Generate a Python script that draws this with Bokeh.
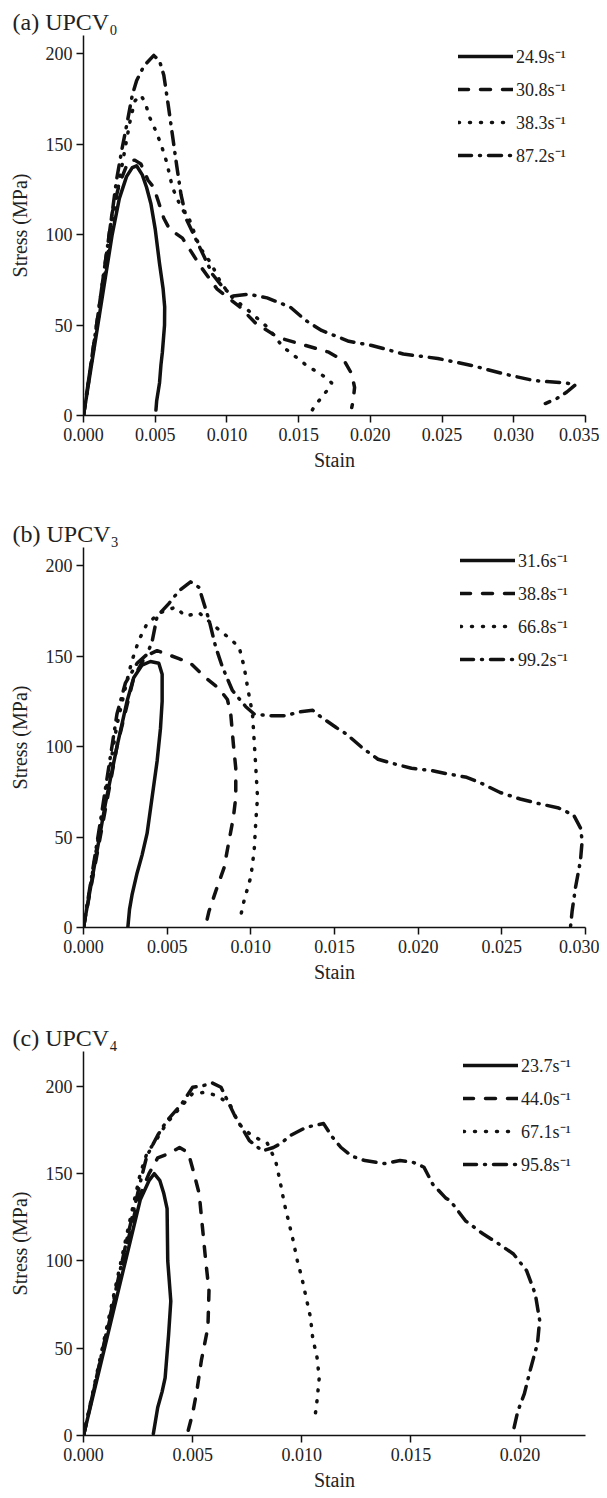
from bokeh.plotting import figure
from bokeh.layouts import column
from bokeh.models import Legend, LegendItem, Title, FixedTicker, PrintfTickFormatter, Range1d
from bokeh.embed import file_html
from bokeh.resources import INLINE

FONT = "Liberation Serif"
INK = "#111111"

# ---------------- Panel (a) UPCV0 ----------------
a_title = "(a) UPCV₀"
a_labels = ["24.9s⁻¹", "30.8s⁻¹", "38.3s⁻¹", "87.2s⁻¹"]
a1_x = [0, 0.0005, 0.001, 0.0015, 0.002, 0.0025, 0.003, 0.0034, 0.0037, 0.0041, 0.0044, 0.0047, 0.0050,
        0.0053, 0.00555, 0.00566, 0.00565, 0.0055, 0.0054, 0.0053, 0.0051, 0.00505]
a1_y = [0, 25, 50, 75, 100, 120, 132, 137, 138, 133, 126, 117, 103, 84, 70, 60, 50, 35, 28, 18, 8, 3]
a2_x = [0, 0.001, 0.002, 0.0025, 0.003, 0.0033, 0.0036, 0.0040, 0.0045, 0.0049, 0.0056, 0.0060, 0.0069,
        0.0082, 0.0093, 0.0109, 0.0120, 0.0136, 0.0155, 0.0171, 0.0182, 0.0187, 0.0189, 0.0188, 0.0187]
a2_y = [0, 55, 112, 128, 138, 141, 141, 139, 130, 126, 109, 103, 98, 82, 70, 60, 51, 43, 38.7, 35, 30,
        23, 15.5, 8, 4.4]
a3_x = [0, 0.001, 0.002, 0.0025, 0.003, 0.0033, 0.0036, 0.0040, 0.0043, 0.0046, 0.0050, 0.0054, 0.0058,
        0.0062, 0.0068, 0.0074, 0.0081, 0.0089, 0.0096, 0.0104, 0.0115, 0.0128, 0.0139, 0.0155, 0.0169,
        0.0173, 0.0170, 0.0165, 0.0161, 0.0158]
a3_y = [0, 52, 105, 130, 152, 165, 174, 177, 173, 165, 158, 150, 140, 126, 115, 108, 93, 84, 73, 65, 58,
        49, 38, 28, 21, 18, 14, 9, 5, 1]
a4_x = [0, 0.001, 0.002, 0.0023, 0.0027, 0.0030, 0.0034, 0.0037, 0.0042, 0.0049, 0.0053, 0.0056, 0.0059,
        0.0062, 0.0065, 0.0068, 0.0072, 0.0078, 0.0084, 0.0090, 0.0097, 0.0104, 0.0115, 0.0128, 0.0144,
        0.0155, 0.0166, 0.0185, 0.0201, 0.0223, 0.0247, 0.0271, 0.0293, 0.0314, 0.0336, 0.0343, 0.0337,
        0.0330, 0.0322]
a4_y = [0, 55, 112, 130, 148, 160, 177, 185, 193, 199, 196, 188, 172, 155, 138, 122, 108, 98, 88, 78, 71,
        66, 67, 65, 60, 52.5, 47, 41, 38.7, 34, 31.5, 27.6, 23, 19.3, 18, 17, 13, 9.4, 6.6]
a_xticks = [0.000, 0.005, 0.010, 0.015, 0.020, 0.025, 0.030, 0.035]

# ---------------- Panel (b) UPCV3 ----------------
b_title = "(b) UPCV₃"
b_labels = ["31.6s⁻¹", "38.8s⁻¹", "66.8s⁻¹", "99.2s⁻¹"]
b1_x = [0, 0.0013, 0.0020, 0.0026, 0.0030, 0.0035, 0.0040, 0.0045, 0.0047, 0.0047, 0.0046, 0.0044,
        0.0041, 0.0038, 0.0035, 0.0032, 0.0029, 0.00275, 0.00265]
b1_y = [0, 68, 100, 125, 138, 145, 147, 146, 140, 125, 110, 92, 72, 52, 40, 30, 18, 10, 0]
b2_x = [0, 0.001, 0.002, 0.003, 0.0037, 0.0044, 0.0050, 0.0057, 0.0064, 0.0073, 0.0081, 0.0086, 0.0088,
        0.00896, 0.0091, 0.0091, 0.00896, 0.0087, 0.0084, 0.0079, 0.0075, 0.00735]
b2_y = [0, 50, 100, 138, 150, 153, 151, 148.6, 146, 138, 132, 126, 118, 101, 88, 72, 61, 48, 33, 20, 9, 3]
b3_x = [0, 0.001, 0.002, 0.0026, 0.0029, 0.0033, 0.0038, 0.0046, 0.0055, 0.0061, 0.0069, 0.0079, 0.0087,
        0.0093, 0.0096, 0.0098, 0.0101, 0.0102, 0.0103, 0.0104, 0.0103, 0.0102, 0.0100, 0.0096, 0.0094]
b3_y = [0, 56, 112, 136.5, 147.5, 158.6, 168, 174, 177, 172, 174, 166, 160, 155, 144, 133, 118, 103, 88,
        72, 59, 42.5, 28, 15, 6.6]
b4_x = [0, 0.001, 0.002, 0.0025, 0.0032, 0.0038, 0.0041, 0.0044, 0.0051, 0.0057, 0.0064, 0.0069, 0.0071,
        0.0075, 0.0079, 0.0083, 0.0089, 0.0097, 0.0102, 0.0111, 0.0121, 0.0128, 0.0137, 0.0141, 0.0151,
        0.0157, 0.0167, 0.0176, 0.0185, 0.0196, 0.0208, 0.0217, 0.0229, 0.0238, 0.0249, 0.0261, 0.0272,
        0.0284, 0.0293, 0.0297, 0.0298, 0.0297, 0.0294, 0.0292, 0.0291]
b4_y = [0, 58, 118, 135, 146, 151, 158, 172, 179, 186, 191, 188, 182, 170, 155, 144, 131, 122, 118, 117,
        117, 119, 120, 117, 110.5, 107, 99, 93, 90.6, 88, 86.7, 85, 83, 79.6, 74.6, 71, 68.5, 66, 62, 55,
        48, 37, 22, 9, 0]
b_xticks = [0.000, 0.005, 0.010, 0.015, 0.020, 0.025, 0.030]

# ---------------- Panel (c) UPCV4 ----------------
c_title = "(c) UPCV₄"
c_labels = ["23.7s⁻¹", "44.0s⁻¹", "67.1s⁻¹", "95.8s⁻¹"]
c1_x = [0, 0.0005, 0.001, 0.0015, 0.002, 0.0026, 0.0030, 0.00324, 0.0035, 0.00368, 0.00383, 0.00386,
        0.0040, 0.0039, 0.00374, 0.0036, 0.0034, 0.0032]
c1_y = [0, 26, 52, 78, 104, 135, 146, 150, 146, 138.6, 130, 100, 77, 58, 33, 25, 16, 1]
c2_x = [0, 0.001, 0.002, 0.0025, 0.0030, 0.0034, 0.0039, 0.0044, 0.0048, 0.0050, 0.0053, 0.0056, 0.00575,
        0.0057, 0.0054, 0.0052, 0.0050, 0.0048]
c2_y = [0, 55, 110, 135, 150, 159, 161.5, 165, 162, 153, 138.6, 100, 83, 62, 43, 26, 12.6, 3]
c3_x = [0, 0.001, 0.002, 0.0026, 0.0029, 0.0034, 0.0038, 0.0043, 0.0050, 0.0056, 0.0061, 0.0067, 0.0071,
        0.0076, 0.0080, 0.0084, 0.0088, 0.0090, 0.0092, 0.0096, 0.0098, 0.0100, 0.0102, 0.0104, 0.0105,
        0.0107, 0.0108, 0.0107, 0.0106]
c3_y = [0, 58, 116, 150, 161.5, 170.7, 178.7, 186, 196, 196.6, 194.7, 190, 178.7, 173, 170, 168, 157.5,
        146, 133, 112, 100, 90.5, 79, 67.6, 56, 44.7, 33, 20, 10]
c4_x = [0, 0.001, 0.002, 0.0026, 0.0029, 0.0034, 0.0038, 0.0045, 0.0050, 0.0055, 0.0059, 0.0063, 0.0069,
        0.0076, 0.0082, 0.0087, 0.0090, 0.0095, 0.0102, 0.0110, 0.0114, 0.0118, 0.0123, 0.0129, 0.0138,
        0.0145, 0.0151, 0.0156, 0.0160, 0.0166, 0.0168, 0.0175, 0.0183, 0.0190, 0.0197, 0.0203, 0.0207,
        0.0209, 0.0208, 0.0205, 0.0202, 0.0199, 0.0197]
c4_y = [0, 56, 113, 145, 160, 172, 180, 190, 199.5, 200.5, 202, 199.5, 184, 169, 163, 165, 167, 172,
        176.6, 178.7, 171, 165, 160, 157.5, 155.8, 157.5, 156.5, 153.7, 144, 136, 134.6, 123, 115.6, 110,
        104, 94.5, 81, 66, 52.7, 39, 24, 14, 3]
c_xticks = [0.000, 0.005, 0.010, 0.015, 0.020]

y_ticks = [0, 50, 100, 150, 200]
DASHES = ["solid", "10 12", "1 10", "13 8 1 8"]


def panel(title, series, labels, xticks, xmax, ymax, h, b_left, b_right, b_top, b_bottom, leg_loc):
    p = figure(width=599, height=h, output_backend="svg", toolbar_location=None,
               x_range=Range1d(0, xmax), y_range=Range1d(0, ymax),
               min_border_left=b_left, min_border_right=b_right,
               min_border_top=b_top, min_border_bottom=b_bottom)
    p.outline_line_color = None
    p.grid.visible = False
    p.background_fill_color = "white"
    p.border_fill_color = "white"
    t = Title(text=title, align="left", offset=-71, standoff=2, text_font=FONT,
              text_font_size="24px", text_font_style="normal", text_color="#222222")
    p.add_layout(t, "above")
    items = []
    for (xs, ys), dash, lab in zip(series, DASHES, labels):
        r = p.line(xs, ys, line_color=INK, line_width=3.5, line_dash=dash,
                   line_cap="round", line_join="round")
        items.append(LegendItem(label=lab, renderers=[r]))
    leg = Legend(items=items, location=leg_loc, glyph_width=55, glyph_height=20,
                 label_height=20, label_standoff=3, spacing=9, padding=0, margin=0,
                 border_line_color=None, background_fill_alpha=0,
                 label_text_font=FONT, label_text_font_size="18px", label_text_color="#222222")
    p.add_layout(leg, "center")
    for ax in (p.xaxis[0], p.yaxis[0]):
        ax.axis_line_color = INK
        ax.axis_line_width = 1.5
        ax.major_tick_line_color = INK
        ax.major_tick_line_width = 1.5
        ax.major_tick_out = 7
        ax.major_tick_in = 0
        ax.minor_tick_line_color = None
        ax.major_label_text_font = FONT
        ax.major_label_text_font_size = "18px"
        ax.major_label_text_color = "#222222"
        ax.axis_label_text_font = FONT
        ax.axis_label_text_font_size = "20px"
        ax.axis_label_text_font_style = "normal"
        ax.axis_label_text_color = "#222222"
    p.xaxis.ticker = FixedTicker(ticks=xticks)
    p.xaxis.formatter = PrintfTickFormatter(format="%.3f")
    p.xaxis.axis_label = "Stain"
    p.xaxis.major_label_standoff = 5
    p.xaxis.axis_label_standoff = 5
    p.yaxis.ticker = FixedTicker(ticks=y_ticks)
    p.yaxis.axis_label = "Stress (MPa)"
    p.yaxis.major_label_standoff = 4
    p.yaxis.axis_label_standoff = 12
    return p


pa = panel(a_title, [(a1_x, a1_y), (a2_x, a2_y), (a3_x, a3_y), (a4_x, a4_y)], a_labels,
           a_xticks, 0.035, 210, 512, 83, 14, 35, 97, (375, 248))
pb = panel(b_title, [(b1_x, b1_y), (b2_x, b2_y), (b3_x, b3_y), (b4_x, b4_y)], b_labels,
           b_xticks, 0.030, 210, 504, 83, 11, 35, 89, (377, 256))
pc = panel(c_title, [(c1_x, c1_y), (c2_x, c2_y), (c3_x, c3_y), (c4_x, c4_y)], c_labels,
           c_xticks, 0.023, 220, 482, 82, 7, 35, 63, (380, 259))

layout = column(pa, pb, pc, spacing=0)
open("out.html", "w").write(file_html(layout, INLINE))
